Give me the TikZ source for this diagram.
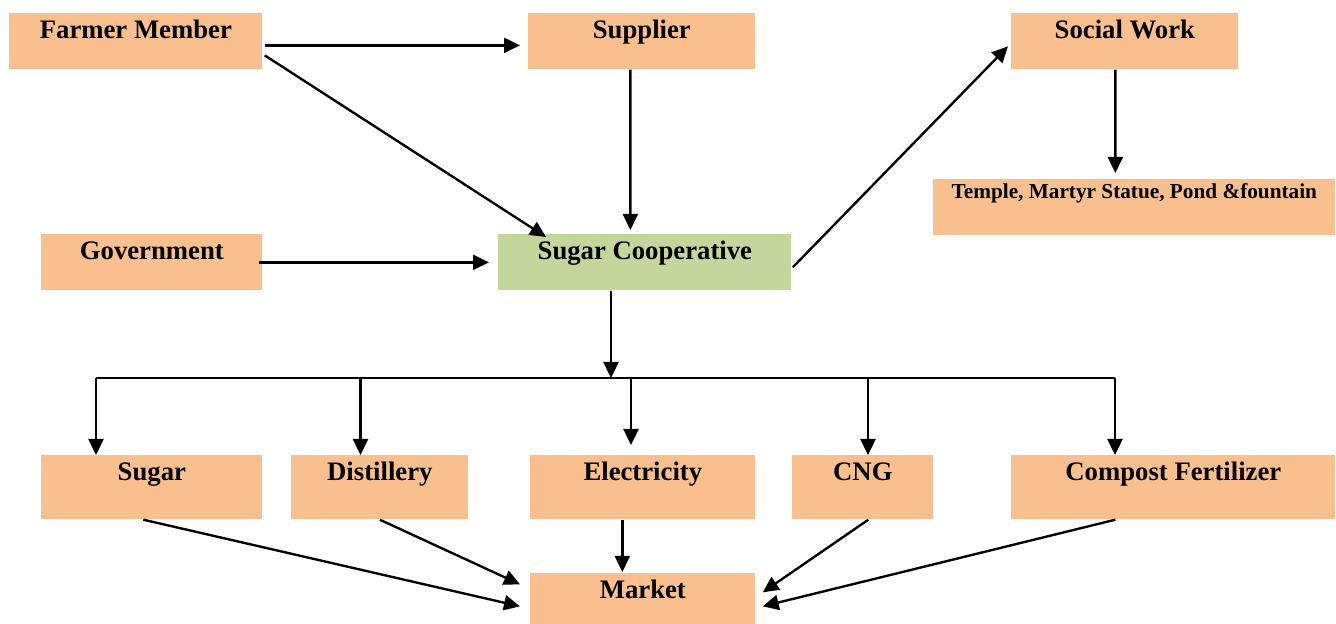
\documentclass[tikz,border=0pt]{standalone}
\usepackage{fontspec}
\setmainfont{Liberation Serif}
\usetikzlibrary{arrows.meta}
\definecolor{boxorange}{HTML}{F9BF8F}
\definecolor{boxgreen}{HTML}{C3D69B}
\tikzset{
  box/.style={fill=boxorange, anchor=north west, inner sep=0pt, align=center,
    text height=0.5cm, font=\fontsize{15.2}{18}\selectfont\bfseries},
  arr/.style={-{Triangle[length=0.32cm,width=0.3cm]}, line width=1.35pt}
}
\begin{document}
\begin{tikzpicture}[x=1cm,y=1cm]
\useasboundingbox (0,0) rectangle (26.72,-12.48);
% top row
\node[box, minimum width=5.06cm, text depth=0.62cm] (farmer) at (0.18,-0.26) {Farmer Member};
\node[box, minimum width=4.54cm, text depth=0.62cm] (supplier) at (10.56,-0.26) {Supplier};
\node[box, minimum width=4.54cm, text depth=0.62cm] (social) at (20.22,-0.26) {Social Work};
\node[box, minimum width=8.04cm, text height=0.38cm, text depth=0.74cm, font=\fontsize{12.1}{14}\selectfont\bfseries] (temple) at (18.66,-3.58) {Temple, Martyr Statue, Pond \&fountain};
% middle row
\node[box, minimum width=4.42cm, text depth=0.62cm] (govt) at (0.82,-4.68) {Government};
\node[box, fill=boxgreen, minimum width=5.86cm, text depth=0.62cm] (coop) at (9.96,-4.68) {Sugar Cooperative};
% products
\node[box, minimum width=4.42cm, text depth=0.78cm] (sugar) at (0.82,-9.10) {Sugar};
\node[box, minimum width=3.54cm, text depth=0.78cm] (distillery) at (5.82,-9.10) {Distillery};
\node[box, minimum width=4.50cm, text depth=0.78cm] (electricity) at (10.60,-9.10) {Electricity};
\node[box, minimum width=2.82cm, text depth=0.78cm] (cng) at (15.84,-9.10) {CNG};
\node[box, minimum width=6.48cm, text depth=0.78cm] (compost) at (20.22,-9.10) {Compost Fertilizer};
\node[box, minimum width=4.50cm, text depth=0.52cm] (market) at (10.60,-11.46) {Market};
% branching line
\coordinate (busL) at (1.92,-7.56);
\coordinate (busD) at (7.21,-7.56);
\coordinate (busC) at (12.22,-7.56);
\coordinate (busE) at (12.62,-7.56);
\coordinate (busN) at (17.36,-7.56);
\coordinate (busR) at (22.30,-7.56);
% connectors
\draw[arr] ([xshift=0.04cm,yshift=-0.08cm]farmer.east) -- ([xshift=-0.16cm,yshift=-0.08cm]supplier.west);
\draw[arr] ([xshift=0.04cm,yshift=-0.28cm]farmer.east) -- ([xshift=0.96cm,yshift=-0.06cm]coop.north west);
\draw[arr] ([xshift=-0.23cm]supplier.south) -- ([xshift=-0.29cm,yshift=0.08cm]coop.north);
\draw[arr] ([xshift=-0.08cm]govt.east) -- ([xshift=-0.18cm]coop.west);
\draw[arr] ([xshift=0.02cm,yshift=-0.1cm]coop.east) -- ([xshift=-0.06cm,yshift=-0.1cm]social.west);
\draw[arr] ([xshift=-0.19cm]social.south) -- ([xshift=-0.38cm,yshift=0.12cm]temple.north);
\draw[arr] (busC |- coop.south) -- (busC);
\draw[line width=1.35pt] (busL) -- (busR);
\draw[arr] (busL) -- (busL |- sugar.north);
\draw[arr] (busD) -- (busD |- distillery.north);
\draw[arr, shorten >=0.2cm] (busE) -- (busE |- electricity.north);
\draw[arr] (busN) -- (busN |- cng.north);
\draw[arr] (busR) -- (busR |- compost.north);
\draw[arr] ([xshift=-0.17cm]sugar.south) -- ([xshift=-0.2cm,yshift=-0.15cm]market.west);
\draw[arr] (distillery.south) -- ([xshift=-0.2cm,yshift=0.29cm]market.west);
\draw[arr] ([xshift=-0.41cm]electricity.south) -- ([xshift=-0.41cm,yshift=0.02cm]market.north);
\draw[arr] ([xshift=0.11cm]cng.south) -- ([xshift=0.14cm,yshift=0.13cm]market.east);
\draw[arr] ([xshift=-1.16cm]compost.south) -- ([xshift=0.14cm,yshift=-0.15cm]market.east);
\end{tikzpicture}
\end{document}
